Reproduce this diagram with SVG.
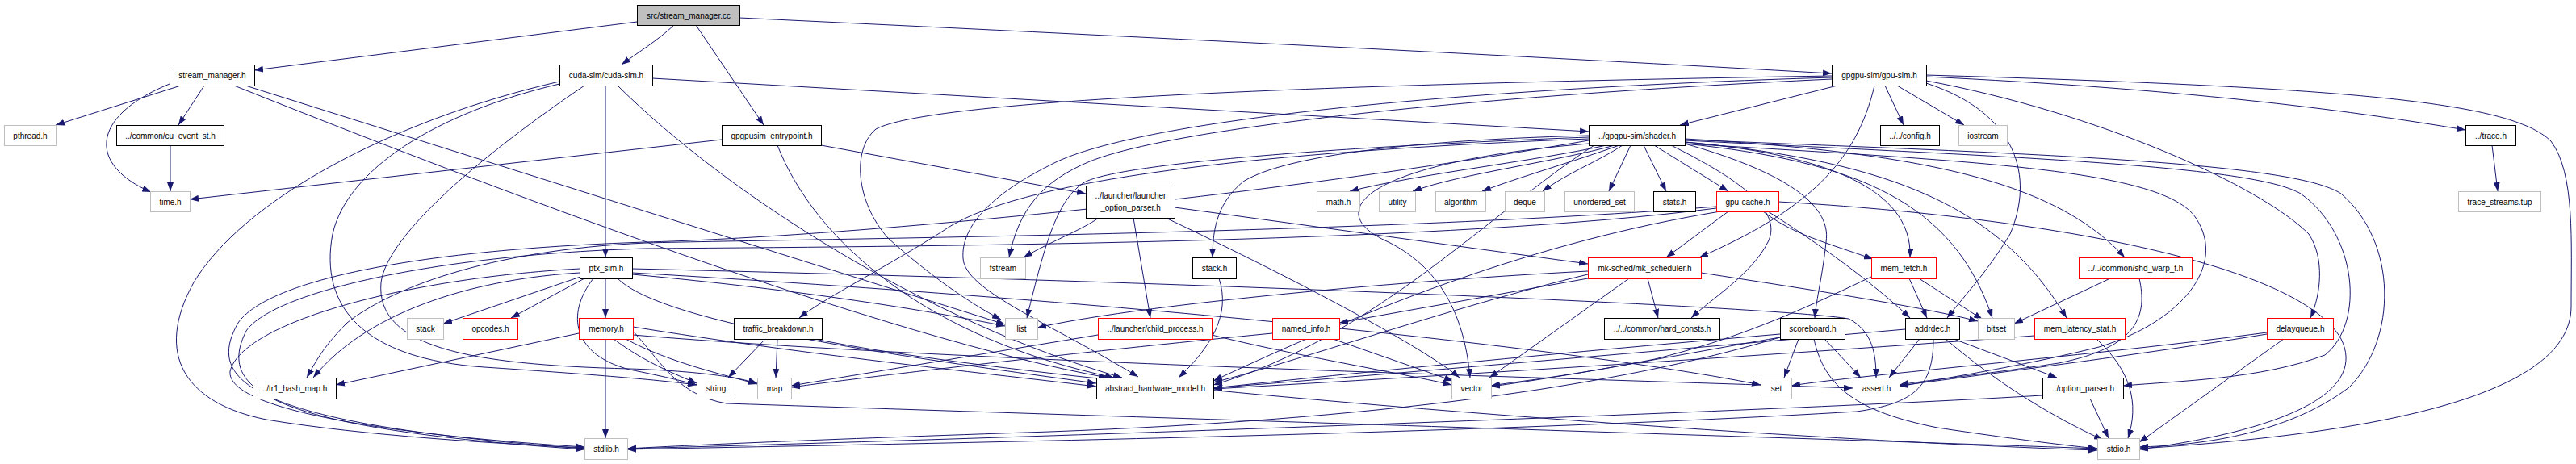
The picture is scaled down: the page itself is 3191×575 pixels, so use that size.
<svg xmlns="http://www.w3.org/2000/svg" width="3191" height="575" viewBox="0 0 3191 575">
<style>
rect{stroke-width:1}
.b rect{fill:#fff;stroke:#000}
.g rect{fill:#fff;stroke:#bfbfbf}
.r rect{fill:#fff;stroke:#ff0000}
.root rect{fill:#bfbfbf;stroke:#000}
text{font-family:"Liberation Sans",Arial,Helvetica,sans-serif;font-size:10px;text-anchor:middle;fill:#000}
#edges path{fill:none;stroke:#191970;stroke-width:1;marker-end:url(#ah)}
</style>
<defs>
<marker id="ah" markerWidth="11" markerHeight="8" refX="11" refY="4" orient="auto" markerUnits="userSpaceOnUse"><path d="M0,0 L11,4 L0,8 z" fill="#191970"/></marker>
</defs>
<rect width="3191" height="575" fill="#fff"/>
<g id="edges">
<path d="M789,27 L315,87"/>
<path d="M835,31 C815,50 790,65 770,80"/>
<path d="M862,31 L946,155"/>
<path d="M916,22 C1400,45 1900,70 2269,91"/>
<path d="M224,106 L69,155"/>
<path d="M253,106 L221,155"/>
<path d="M210,104 C110,145 110,205 187,238"/>
<path d="M304,106 L1245,402"/>
<path d="M290,106 C600,230 1100,420 1372,468"/>
<path d="M211,180 L211,237"/>
<path d="M808,97 L1968,163"/>
<path d="M750,106 L750,319"/>
<path d="M693,101 C480,150 300,250 240,350 C190,440 230,500 330,520 C450,540 620,550 724,555"/>
<path d="M693,104 C540,140 430,210 412,290 C395,380 450,445 600,455 C720,463 810,470 863,477"/>
<path d="M724,106 C600,190 480,290 472,350 C465,430 580,452 780,457 C870,460 915,468 938,475"/>
<path d="M765,106 C900,240 1150,400 1390,468"/>
<path d="M894,173 L235,247"/>
<path d="M1017,180 L1345,240"/>
<path d="M963,180 C1010,300 1150,420 1380,468"/>
<path d="M2276,106 L2081,155"/>
<path d="M2335,106 L2358,155"/>
<path d="M2350,106 L2433,155"/>
<path d="M2386,95 C2700,110 2900,135 3054,161"/>
<path d="M2386,93 C2900,108 3110,125 3160,175 C3190,215 3185,300 3185,380 C3185,500 2900,540 2650,556"/>
<path d="M2269,94 C1600,105 1150,125 1085,160 C1055,185 1060,250 1100,295 C1150,340 1200,375 1240,396"/>
<path d="M2269,96 C1800,110 1400,150 1300,205 C1230,240 1190,280 1193,320 C1195,360 1300,400 1410,467"/>
<path d="M2269,98 C1800,120 1450,160 1350,200 C1290,225 1262,260 1250,319"/>
<path d="M2322,106 C2300,200 2240,260 2105,319"/>
<path d="M2386,103 C2500,140 2520,220 2490,290 C2460,340 2430,370 2412,394"/>
<path d="M2386,100 C2600,140 2800,230 2860,290 C2880,320 2875,365 2862,394"/>
<path d="M1990,180 C1900,200 1760,215 1672,237"/>
<path d="M2000,180 C1930,200 1810,215 1750,237"/>
<path d="M2006,180 C1950,200 1880,220 1836,237"/>
<path d="M2010,180 C1980,200 1940,215 1911,237"/>
<path d="M2020,180 L1993,237"/>
<path d="M2036,180 L2064,237"/>
<path d="M2049,180 L2141,237"/>
<path d="M1968,168 C1700,175 1580,200 1540,225 C1510,250 1502,280 1502,319"/>
<path d="M1968,170 C1700,180 1400,200 1345,225 C1310,245 1295,300 1272,394"/>
<path d="M1968,172 C1500,190 1250,230 1170,285 C1100,330 1020,370 990,394"/>
<path d="M1968,178 C1700,200 1630,260 1720,300 C1790,335 1815,400 1821,468"/>
<path d="M1975,180 C1850,260 1700,420 1503,477"/>
<path d="M1968,174 C1500,255 1000,295 800,300 C500,310 330,350 295,400 C255,470 300,525 724,556"/>
<path d="M2087,176 C2250,190 2370,230 2366,319"/>
<path d="M2087,178 C2200,210 2270,250 2262,300 C2258,340 2250,370 2248,394"/>
<path d="M2070,180 C2150,220 2210,260 2190,300 C2170,340 2120,370 2095,394"/>
<path d="M2087,178 C2300,200 2420,250 2468,394"/>
<path d="M2087,176 C2350,200 2480,260 2560,394"/>
<path d="M2087,172 C2400,190 2550,230 2632,319"/>
<path d="M2087,178 C2450,200 2680,210 2720,270 C2760,330 2700,400 2600,430 C2500,455 2400,470 2353,479"/>
<path d="M2087,174 C2500,195 2790,205 2850,240 C2920,290 2930,400 2880,440 C2800,470 2700,472 2630,478"/>
<path d="M2087,173 C2500,190 2840,200 2900,240 C2970,300 2970,420 2910,480 C2830,540 2720,552 2650,554"/>
<path d="M2141,262 L2064,319"/>
<path d="M2184,262 C2220,290 2260,300 2320,321"/>
<path d="M2190,262 C2250,300 2320,350 2366,394"/>
<path d="M2131,262 C1900,300 1700,380 1503,472"/>
<path d="M2126,258 C1800,300 1200,305 800,308 C550,315 340,360 305,410 C270,480 320,530 724,557"/>
<path d="M2126,256 C1700,290 1000,296 800,301 C600,310 480,360 430,400 C400,430 390,450 380,468"/>
<path d="M2203,250 C2550,270 2850,330 2900,420 C2930,480 2850,530 2650,557"/>
<path d="M1361,270 C1340,285 1300,300 1268,319"/>
<path d="M1404,270 L1425,394"/>
<path d="M1444,270 C1550,320 1750,420 1808,468"/>
<path d="M1455,257 L1967,327"/>
<path d="M1510,345 C1525,390 1500,430 1460,468"/>
<path d="M750,345 L750,394"/>
<path d="M724,345 L633,394"/>
<path d="M719,343 L549,401"/>
<path d="M718,338 C600,345 460,380 388,468"/>
<path d="M718,333 C500,345 300,400 285,460 C280,510 500,540 724,554"/>
<path d="M735,345 C700,390 710,440 780,458 C820,466 845,472 863,477"/>
<path d="M765,345 C820,400 1100,440 1358,475"/>
<path d="M783,333 C1500,350 2200,380 2290,395 C2320,410 2324,440 2324,468"/>
<path d="M783,338 C1500,380 2000,440 2181,477"/>
<path d="M783,340 C1000,360 1150,385 1245,404"/>
<path d="M750,420 L750,543"/>
<path d="M717,413 L416,477"/>
<path d="M760,420 C800,450 840,465 863,475"/>
<path d="M775,420 C830,450 900,465 938,476"/>
<path d="M784,405 C1000,440 1200,460 1358,479"/>
<path d="M784,415 C1200,450 2000,470 2295,481"/>
<path d="M784,410 C820,450 840,490 900,500 C1500,520 2300,545 2598,556"/>
<path d="M948,420 L902,468"/>
<path d="M963,420 L961,468"/>
<path d="M1009,420 C1300,480 2200,545 2598,558"/>
<path d="M1360,415 L980,478"/>
<path d="M1501,415 C1600,440 1750,465 1798,477"/>
<path d="M1576,413 C1300,440 1050,470 980,480"/>
<path d="M1651,420 L1800,472"/>
<path d="M2041,345 L2054,394"/>
<path d="M2018,345 L1845,468"/>
<path d="M1967,345 L1659,400"/>
<path d="M1967,336 C1700,350 1400,380 1285,406"/>
<path d="M2107,338 C2250,360 2380,380 2450,398"/>
<path d="M1967,340 C1800,380 1600,450 1503,474"/>
<path d="M2365,345 L2387,394"/>
<path d="M2377,345 L2456,396"/>
<path d="M2318,343 C2220,390 2150,420 2050,445 C1950,465 1900,470 1847,478"/>
<path d="M2614,345 L2495,401"/>
<path d="M2650,345 C2660,390 2650,430 2550,450 C2450,465 2380,472 2353,477"/>
<path d="M2228,420 L2210,468"/>
<path d="M2260,420 L2305,468"/>
<path d="M2247,420 C2260,480 2300,510 2400,530 C2500,545 2560,552 2598,556"/>
<path d="M2205,418 C2050,445 1950,465 1847,479"/>
<path d="M2205,414 C1900,440 1650,465 1503,481"/>
<path d="M2205,418 C2000,480 1700,520 1300,535 C1000,545 850,552 777,556"/>
<path d="M2378,420 L2340,468"/>
<path d="M2410,420 C2480,480 2550,520 2605,545"/>
<path d="M2420,420 L2548,468"/>
<path d="M2395,420 C2395,480 2370,500 2300,510 C1800,540 1000,552 777,557"/>
<path d="M2360,408 C2000,440 1700,465 1503,481"/>
<path d="M2597,420 C2640,460 2650,500 2636,543"/>
<path d="M2520,416 C2200,440 1800,465 1503,482"/>
<path d="M2829,420 L2650,548"/>
<path d="M2808,412 C2600,440 2300,465 2219,478"/>
<path d="M2808,414 C2650,440 2450,465 2353,478"/>
<path d="M2589,494 L2612,543"/>
<path d="M2530,490 C2200,510 1200,545 777,556"/>
<path d="M3087,180 L3094,237"/>
</g>
<g id="n_cc" class="root"><rect x="789.5" y="6.5" width="127" height="25"/><text x="853" y="22.5">src/stream_manager.cc</text></g>
<g id="n_stream_manager" class="b"><rect x="210.5" y="80.5" width="105" height="26"/><text x="263" y="97">stream_manager.h</text></g>
<g id="n_cuda_sim" class="b"><rect x="693.5" y="80.5" width="115" height="26"/><text x="751" y="97">cuda-sim/cuda-sim.h</text></g>
<g id="n_gpu_sim" class="b"><rect x="2269.5" y="80.5" width="117" height="26"/><text x="2328" y="97">gpgpu-sim/gpu-sim.h</text></g>
<g id="n_pthread" class="g"><rect x="5.5" y="155.5" width="64" height="25"/><text x="37.5" y="171.5">pthread.h</text></g>
<g id="n_cu_event" class="b"><rect x="144.5" y="155.5" width="133" height="25"/><text x="211" y="171.5">../common/cu_event_st.h</text></g>
<g id="n_entrypoint" class="b"><rect x="894.5" y="155.5" width="123" height="25"/><text x="956" y="171.5">gpgpusim_entrypoint.h</text></g>
<g id="n_shader" class="b"><rect x="1968.5" y="155.5" width="119" height="25"/><text x="2028" y="171.5">../gpgpu-sim/shader.h</text></g>
<g id="n_config" class="b"><rect x="2329.5" y="155.5" width="73" height="25"/><text x="2366" y="171.5">../../config.h</text></g>
<g id="n_iostream" class="g"><rect x="2426.5" y="155.5" width="60" height="25"/><text x="2456.5" y="171.5">iostream</text></g>
<g id="n_trace" class="b"><rect x="3054.5" y="155.5" width="62" height="25"/><text x="3085.5" y="171.5">../trace.h</text></g>
<g id="n_time" class="g"><rect x="186.5" y="237.5" width="49" height="25"/><text x="211" y="253.5">time.h</text></g>
<g id="n_launcher" class="b"><rect x="1345.5" y="230.5" width="110" height="40"/><text x="1400.5" y="246">../launcher/launcher</text><text x="1400.5" y="261">_option_parser.h</text></g>
<g id="n_math" class="g"><rect x="1631.5" y="237.5" width="53" height="25"/><text x="1658" y="253.5">math.h</text></g>
<g id="n_utility" class="g"><rect x="1708.5" y="237.5" width="45" height="25"/><text x="1731" y="253.5">utility</text></g>
<g id="n_algorithm" class="g"><rect x="1778.5" y="237.5" width="62" height="25"/><text x="1809.5" y="253.5">algorithm</text></g>
<g id="n_deque" class="g"><rect x="1864.5" y="237.5" width="49" height="25"/><text x="1889" y="253.5">deque</text></g>
<g id="n_unordered_set" class="g"><rect x="1938.5" y="237.5" width="86" height="25"/><text x="1981.5" y="253.5">unordered_set</text></g>
<g id="n_stats" class="b"><rect x="2048.5" y="237.5" width="52" height="25"/><text x="2074.5" y="253.5">stats.h</text></g>
<g id="n_gpu_cache" class="r"><rect x="2126.5" y="237.5" width="77" height="25"/><text x="2165" y="253.5">gpu-cache.h</text></g>
<g id="n_trace_streams" class="g"><rect x="3045.5" y="237.5" width="102" height="25"/><text x="3096.5" y="253.5">trace_streams.tup</text></g>
<g id="n_ptx_sim" class="b"><rect x="718.5" y="319.5" width="65" height="26"/><text x="751" y="336">ptx_sim.h</text></g>
<g id="n_fstream" class="g"><rect x="1214.5" y="319.5" width="56" height="26"/><text x="1242.5" y="336">fstream</text></g>
<g id="n_stack_h" class="b"><rect x="1477.5" y="319.5" width="54" height="26"/><text x="1504.5" y="336">stack.h</text></g>
<g id="n_mk_scheduler" class="r"><rect x="1967.5" y="319.5" width="140" height="26"/><text x="2037.5" y="336">mk-sched/mk_scheduler.h</text></g>
<g id="n_mem_fetch" class="r"><rect x="2318.5" y="319.5" width="80" height="26"/><text x="2358.5" y="336">mem_fetch.h</text></g>
<g id="n_shd_warp" class="r"><rect x="2575.5" y="319.5" width="140" height="26"/><text x="2645.5" y="336">../../common/shd_warp_t.h</text></g>
<g id="n_stack" class="g"><rect x="504.5" y="394.5" width="45" height="26"/><text x="527" y="411">stack</text></g>
<g id="n_opcodes" class="r"><rect x="573.5" y="394.5" width="68" height="26"/><text x="607.5" y="411">opcodes.h</text></g>
<g id="n_memory" class="r"><rect x="717.5" y="394.5" width="67" height="26"/><text x="751" y="411">memory.h</text></g>
<g id="n_traffic" class="b"><rect x="909.5" y="394.5" width="109" height="26"/><text x="964" y="411">traffic_breakdown.h</text></g>
<g id="n_list" class="g"><rect x="1245.5" y="394.5" width="40" height="26"/><text x="1265.5" y="411">list</text></g>
<g id="n_child_process" class="r"><rect x="1360.5" y="394.5" width="141" height="26"/><text x="1431" y="411">../launcher/child_process.h</text></g>
<g id="n_named_info" class="r"><rect x="1576.5" y="394.5" width="83" height="26"/><text x="1618" y="411">named_info.h</text></g>
<g id="n_hard_consts" class="b"><rect x="1987.5" y="394.5" width="143" height="26"/><text x="2059" y="411">../../common/hard_consts.h</text></g>
<g id="n_scoreboard" class="b"><rect x="2205.5" y="394.5" width="80" height="26"/><text x="2245.5" y="411">scoreboard.h</text></g>
<g id="n_addrdec" class="b"><rect x="2360.5" y="394.5" width="67" height="26"/><text x="2394" y="411">addrdec.h</text></g>
<g id="n_bitset" class="g"><rect x="2450.5" y="394.5" width="45" height="26"/><text x="2473" y="411">bitset</text></g>
<g id="n_mem_latency" class="r"><rect x="2520.5" y="394.5" width="112" height="26"/><text x="2576.5" y="411">mem_latency_stat.h</text></g>
<g id="n_delayqueue" class="r"><rect x="2808.5" y="394.5" width="82" height="26"/><text x="2849.5" y="411">delayqueue.h</text></g>
<g id="n_tr1_hash_map" class="b"><rect x="313.5" y="468.5" width="103" height="26"/><text x="365" y="485">../tr1_hash_map.h</text></g>
<g id="n_string" class="g"><rect x="863.5" y="468.5" width="47" height="26"/><text x="887" y="485">string</text></g>
<g id="n_map" class="g"><rect x="938.5" y="468.5" width="42" height="26"/><text x="959.5" y="485">map</text></g>
<g id="n_abstract" class="b"><rect x="1358.5" y="468.5" width="145" height="26"/><text x="1431" y="485">abstract_hardware_model.h</text></g>
<g id="n_vector" class="g"><rect x="1798.5" y="468.5" width="49" height="26"/><text x="1823" y="485">vector</text></g>
<g id="n_set" class="g"><rect x="2181.5" y="468.5" width="38" height="26"/><text x="2200.5" y="485">set</text></g>
<g id="n_assert" class="g"><rect x="2295.5" y="468.5" width="58" height="26"/><text x="2324.5" y="485">assert.h</text></g>
<g id="n_option_parser" class="b"><rect x="2530.5" y="468.5" width="100" height="26"/><text x="2580.5" y="485">../option_parser.h</text></g>
<g id="n_stdlib" class="g"><rect x="724.5" y="543.5" width="53" height="26"/><text x="751" y="560">stdlib.h</text></g>
<g id="n_stdio" class="g"><rect x="2598.5" y="543.5" width="52" height="26"/><text x="2624.5" y="560">stdio.h</text></g>
</svg>
